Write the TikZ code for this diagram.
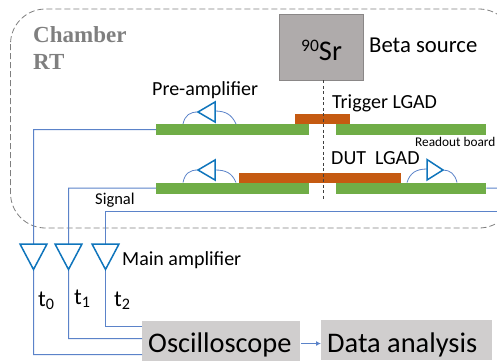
\documentclass[tikz,border=0pt]{standalone}
\usepackage{fontspec}
\usetikzlibrary{arrows.meta}
\setmainfont{Carlito}
\newfontfamily\serifb{Liberation Serif}[BoldFont={Liberation Serif Bold}]
\definecolor{boardgreen}{HTML}{70AD47}
\definecolor{sensororange}{HTML}{C55A11}
\definecolor{wireblue}{HTML}{5B83C9}
\definecolor{ampblue}{HTML}{0F75BC}
\definecolor{srgray}{HTML}{AFABAB}
\definecolor{srborder}{HTML}{8A8787}
\definecolor{scopegray}{HTML}{D0CECE}
\definecolor{chambergray}{HTML}{7F7F7F}
\tikzset{
  px/.style={x=1pt,y=-1pt},
  board/.style={fill=boardgreen,draw=none,inner sep=0pt,anchor=north west,minimum height=11pt},
  sensor/.style={fill=sensororange,draw=none,inner sep=0pt,anchor=north west},
  wire/.style={draw=wireblue,line width=1pt},
  bond/.style={draw=wireblue,line width=0.8pt},
  amp/.style={draw=ampblue,line width=1.5pt,line join=miter,fill=white},
  lbl/.style={inner sep=0pt,anchor=base west,text=black},
  termbox/.style={fill=scopegray,inner sep=0pt,anchor=north west},
}
\begin{document}
\begin{tikzpicture}[px]
\useasboundingbox (0,0) rectangle (497,360);
\clip (0,0) rectangle (497,360);
% chamber
\draw[chambergray,line width=0.8pt,dash pattern=on 6pt off 3pt,rounded corners=35pt] (10.5,9) rectangle (514,228);
\node[lbl,text=chambergray,font=\serifb\bfseries\fontsize{23}{23}\selectfont] (cham) at (33,42) {Chamber};
\node[lbl,text=chambergray,font=\serifb\bfseries\fontsize{23}{23}\selectfont] (rt) at (33,69) {RT};
% source
\node[fill=srgray,draw=srborder,line width=0.8pt,minimum width=84pt,minimum height=66pt,inner sep=0pt] (sr) at (321.5,47) {};
\node[lbl,font=\fontsize{28.5}{28.5}\selectfont] (srt) at (301,60) {\raisebox{9pt}{\fontsize{17.5}{17.5}\selectfont 90}Sr};
\node[lbl,font=\fontsize{22.7}{22.7}\selectfont] (beta) at (369,52) {Beta source};
% boards
\node[board,minimum width=153pt] (btl) at (156,124) {};
\node[board,minimum width=150pt] (btr) at (336,124) {};
\node[board,minimum width=153pt] (bbl) at (156,182.5) {};
\node[board,minimum width=150pt] (bbr) at (336,182.5) {};
\node[sensor,minimum width=55pt,minimum height=10.5pt] (trigs) at (295,113.5) {};
\node[sensor,minimum width=162pt,minimum height=9.5pt] (duts) at (239,173) {};
% beam
\coordinate (beamend) at (323,200);
\draw[black!75,line width=0.8pt,dash pattern=on 3pt off 2.5pt] (sr.south -| beamend) -- (beamend);
% terminals
\node[termbox,minimum width=158pt,minimum height=40pt] (osc) at (142,321) {};
\node[termbox,minimum width=171pt,minimum height=40pt] (da) at (321,320) {};
% wires
\coordinate (redge) at (497,211.5);
\coordinate (bedge) at (497,188);
\draw[wire] (btl.west) -- (33.5,129.5) -- (33.5,354.5) -- (osc.west |- 0,354.5);
\draw[wire] (bbl.west) -- (68.5,188) -- (68.5,338.5) -- (osc.west |- 0,338.5);
\draw[wire] (redge) -- (105.5,211.5) -- (105.5,326.5) -- (osc.west |- 0,326.5);
\draw[wire] (bbr.east) -- (bedge);
% arrow
\draw[wire,-{Latex[length=5pt,width=5pt]}] (osc.east |- 0,343.5) ++(1,0) -- (da.west |- 0,343.5);
% main amps
\foreach \n/\x in {m0/33.5,m1/68.5,m2/105.5}{
  \draw[amp] (\x-13.5,244) -- (\x+13.5,244) -- (\x,269.5) -- cycle;
}
% pre amps with bonds
\draw[bond] (183,124) .. controls (185,115) and (190,112) .. (198,112);
\draw[bond] (215,111) .. controls (226,111) and (232,115) .. (236,124);
\draw[amp] (198,112) -- (215,102) -- (215,122) -- cycle;
\draw[bond] (183,182.5) .. controls (185,173) and (190,170) .. (198,170);
\draw[bond] (215,170) .. controls (226,170) and (232,173) .. (236,182.5);
\draw[amp] (198,170) -- (215,160) -- (215,180) -- cycle;
\draw[bond] (407,182.5) .. controls (410,173) and (416,169) .. (427,169);
\draw[bond] (443,170) .. controls (450,170) and (455,174) .. (457,182.5);
\draw[amp] (427,159.5) -- (443,170) -- (427,180) -- cycle;
% labels
\node[lbl,font=\fontsize{20}{20}\selectfont] (pre) at (152,95) {Pre-amplifier};
\node[lbl,font=\fontsize{20}{20}\selectfont] (trig) at (332,108) {Trigger LGAD};
\node[lbl,font=\fontsize{20}{20}\selectfont] (dut) at (331,164) {DUT\ \ LGAD};
\node[lbl,font=\fontsize{13.3}{13.3}\selectfont] (ro) at (415,146) {Readout board};
\node[lbl,font=\fontsize{16.5}{16.5}\selectfont] (sig) at (95,204) {Signal};
\node[lbl,font=\fontsize{20}{20}\selectfont] (main) at (122,265) {Main amplifier};
\node[lbl,font=\fontsize{23}{23}\selectfont] (t0) at (38,306) {t$_{\mathrm 0}$};
\node[lbl,font=\fontsize{23}{23}\selectfont] (t1) at (74,304) {t$_{\mathrm 1}$};
\node[lbl,font=\fontsize{23}{23}\selectfont] (t2) at (114,306) {t$_{\mathrm 2}$};
\node[lbl,font=\fontsize{28.4}{28.4}\selectfont] (osct) at (148,352) {Oscilloscope};
\node[lbl,font=\fontsize{28.4}{28.4}\selectfont] (dat) at (327,352) {Data analysis};
\end{tikzpicture}
\end{document}
